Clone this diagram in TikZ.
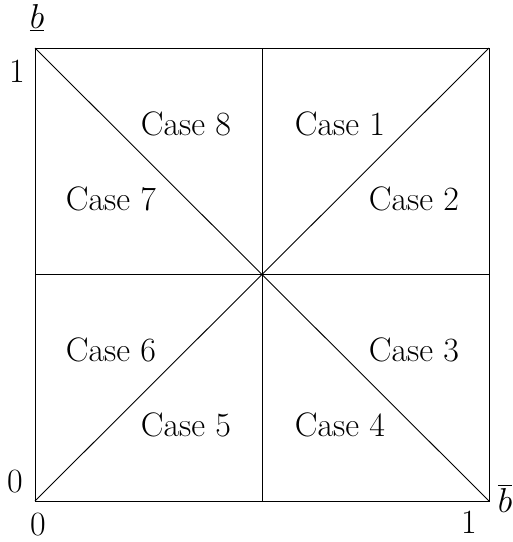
\documentclass[tikz,border=0pt]{standalone}
\begin{document}
\begin{tikzpicture}[x=0.5pt,y=-0.5pt,
  lbl/.style={inner sep=0pt,font=\fontsize{17}{20}\selectfont},
  ln/.style={line width=0.45pt}]
\useasboundingbox (0,0) rectangle (513,542);
\coordinate (A) at (35,501);
\coordinate (B) at (489,501);
\coordinate (C) at (489,48);
\coordinate (D) at (35,48);
\coordinate (O) at (262,274.5);
\coordinate (T) at (262,48);
\coordinate (Bm) at (262,501);
\coordinate (L) at (35,274.5);
\coordinate (R) at (489,274.5);
\draw[ln] (A) -- (B) -- (C) -- (D) -- cycle;
\draw[ln] (A) -- (C);
\draw[ln] (D) -- (B);
\draw[ln] (T) -- (Bm);
\draw[ln] (L) -- (R);
\node[lbl] (c8) at (186,124) {Case 8};
\node[lbl] (c1) at (340,124) {Case 1};
\node[lbl] (c7) at (111,199) {Case 7};
\node[lbl] (c2) at (414,199) {Case 2};
\node[lbl] (c6) at (111,350) {Case 6};
\node[lbl] (c3) at (414,350) {Case 3};
\node[lbl] (c5) at (186,425) {Case 5};
\node[lbl] (c4) at (340,425) {Case 4};
\node[lbl] (bu) at (37,18) {$\underline{b}$};
\node[lbl] (one1) at (17,71) {1};
\node[lbl] (zero1) at (15,482) {0};
\node[lbl] (zero2) at (38,525) {0};
\node[lbl] (one2) at (469,522) {1};
\node[lbl] (bo) at (505,498) {$\overline{b}$};
\end{tikzpicture}
\end{document}
